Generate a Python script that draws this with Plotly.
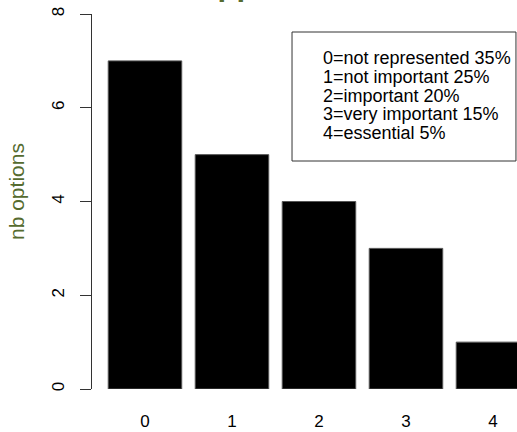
import plotly.graph_objects as go

# ---- data ----
categories = [0, 1, 2, 3, 4]
nb_options = [7, 5, 4, 3, 1]
legend_labels = ["not represented", "not important", "important", "very important", "essential"]
legend_percents = [35, 25, 20, 15, 5]
y_ticks = [0, 2, 4, 6, 8]
y_title = "nb options"
main_title = "Support"

FONT = "Liberation Sans, Arial, sans-serif"
GREEN = "#556B2F"

W, H = 517, 432
ML, MR, MT, MB = 92, 0, 14, 43
PW, PH = W - ML - MR, H - MT - MB

def px_x(p):
    return (p - ML) / PW

def px_y(p):
    return 1 - (p - MT) / PH

fig = go.Figure()
fig.add_trace(go.Bar(
    x=categories, y=nb_options, width=0.845,
    marker=dict(color="black", line=dict(color="#555555", width=1)),
    showlegend=False, hoverinfo="skip",
))

fig.update_layout(
    width=W, height=H,
    margin=dict(l=ML, r=MR, t=MT, b=MB, pad=0),
    paper_bgcolor="white", plot_bgcolor="white",
    font=dict(family=FONT, size=17, color="black"),
    xaxis=dict(
        range=[-0.609, 4.276], tickvals=categories, ticktext=[str(c) for c in categories],
        showline=False, showgrid=False, zeroline=False, ticks="",
        ticklabelstandoff=20,
    ),
    yaxis=dict(
        range=[0, 8], tickvals=y_ticks, ticktext=[str(v) for v in y_ticks],
        showline=True, linecolor="#333333", linewidth=1,
        ticks="outside", ticklen=11, tickcolor="#333333", tickwidth=1,
        tickangle=-90, showgrid=False, zeroline=False,
        ticklabelstandoff=9,
    ),
)

# legend box (data coordinates)
fig.add_shape(type="rect", xref="x", yref="y",
              x0=1.69, x1=4.264, y0=4.864, y1=7.616,
              line=dict(color="#333333", width=1), fillcolor="rgba(0,0,0,0)", layer="above")

for i, (c, lab, pct) in enumerate(zip(categories, legend_labels, legend_percents)):
    fig.add_annotation(xref="x", yref="y", x=2.025, y=7.06 - 0.4 * i,
                       xanchor="left", yanchor="middle", showarrow=False,
                       text=f"{c}={lab} {pct}%", font=dict(size=18, color="black"))

# y axis title
fig.add_annotation(xref="paper", yref="paper", x=px_x(16), y=px_y(192),
                   xanchor="center", yanchor="middle", textangle=-90, showarrow=False,
                   text=y_title, font=dict(size=21, color=GREEN))

# main title (mostly above the visible area)
fig.add_annotation(xref="paper", yref="paper", x=px_x(176.4), y=px_y(3.8),
                   xanchor="left", yanchor="bottom", showarrow=False,
                   text=f"<b>{main_title}</b>", font=dict(size=31, color=GREEN))

fig.write_html("out.html", config={"displayModeBar": False},
               post_script="document.body.style.margin='0';document.body.style.overflow='hidden';")
